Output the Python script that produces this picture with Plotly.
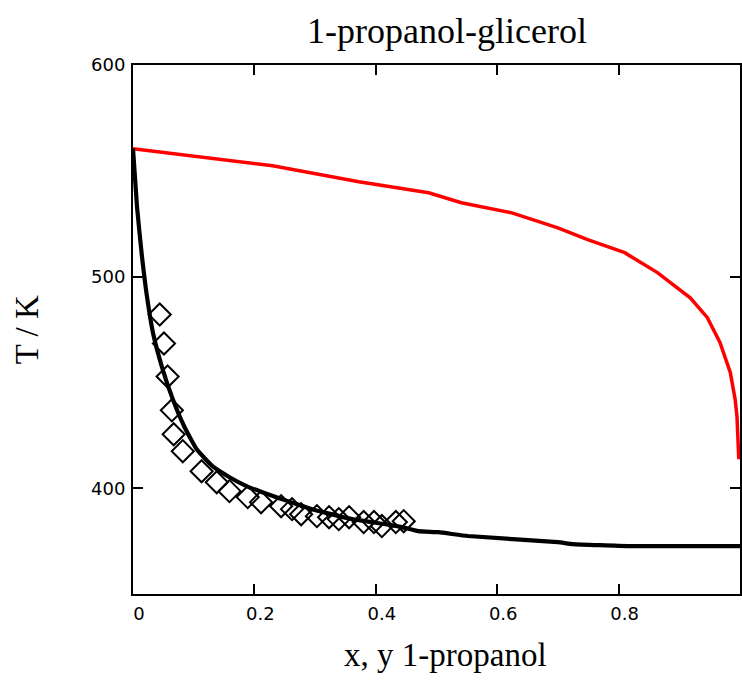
import plotly.graph_objects as go

# Liquid (bubble) curve: T vs x 1-propanol
liq_x = [0, 0.0066, 0.0148, 0.0213, 0.0328, 0.0475, 0.0656, 0.085, 0.105, 0.131, 0.159,
         0.187, 0.213, 0.241, 0.269, 0.295, 0.323, 0.361, 0.416, 0.443, 0.47, 0.503,
         0.552, 0.70, 0.725, 0.818, 1.0]
liq_T = [560.5, 533, 509.4, 494, 473.6, 457.5, 442, 428.8, 418.4, 410.4, 405.2,
         401, 398.1, 395.3, 392.5, 390.1, 388, 385.4, 383, 381.6, 379.7, 379.2,
         377.4, 374.5, 373.6, 372.6, 372.6]

# Vapour (dew) curve: T vs y 1-propanol
vap_y = [0, 0.23, 0.372, 0.487, 0.541, 0.623, 0.70, 0.749, 0.81, 0.864, 0.918,
         0.946, 0.967, 0.984, 0.992, 0.995, 0.998]
vap_T = [560.4, 552.4, 544.8, 539.6, 534.9, 530.2, 523, 517.5, 511.3, 501.9, 490,
         480.7, 468.9, 454.7, 442, 434, 413.7]

# Experimental points
exp_x = [0.044, 0.051, 0.057, 0.064, 0.067, 0.082, 0.113, 0.138, 0.159, 0.189,
         0.211, 0.244, 0.262, 0.277, 0.303, 0.323, 0.339, 0.356, 0.380, 0.397,
         0.41, 0.433, 0.446]
exp_T = [482.1, 468.4, 452.8, 436.8, 425.5, 417.5, 408, 402.8, 398.6, 395.8,
         393.4, 391.5, 390.1, 387.7, 386.8, 386.3, 385.4, 386.3, 384, 384,
         382.1, 384, 384.4]

x_ticks = [0, 0.2, 0.4, 0.6, 0.8]
x_ticktext = ["0", "0.2", "0.4", "0.6", "0.8"]
y_ticks = [400, 500, 600]

title_text = "1-propanol-glicerol"
x_title = "x, y 1-propanol"
y_title = "T / K"

W, H = 742, 697
L, R, T, B = 133, 0, 65, 103
pw, ph = W - L - R, H - T - B

fig = go.Figure()
fig.add_trace(go.Scatter(x=vap_y, y=vap_T, mode="lines",
                         line=dict(color="#ff0000", width=3.5), hoverinfo="skip"))
fig.add_trace(go.Scatter(x=liq_x, y=liq_T, mode="lines",
                         line=dict(color="black", width=4.2, shape="spline", smoothing=0.4),
                         hoverinfo="skip"))
fig.add_trace(go.Scatter(x=exp_x, y=exp_T, mode="markers",
                         marker=dict(symbol="diamond-open", size=17, color="black",
                                     line=dict(width=2, color="black"))))

serif = "Liberation Serif, Times New Roman, serif"
sans = "DejaVu Sans, sans-serif"

fig.update_layout(
    width=W, height=H,
    margin=dict(l=L, r=R, t=T, b=B, pad=0),
    plot_bgcolor="white", paper_bgcolor="white",
    showlegend=False,
    title=dict(text=title_text, x=447 / W, xanchor="center",
               y=1 - 30 / H, yanchor="middle",
               font=dict(family=serif, size=36, color="black")),
    xaxis=dict(range=[0, 1], tickvals=x_ticks, ticktext=x_ticktext,
               ticks="inside", ticklen=10, tickwidth=2, tickcolor="black",
               showline=True, linewidth=2, linecolor="black", mirror="ticks",
               showgrid=False, zeroline=False,
               tickfont=dict(family=sans, size=18, color="black"),
               ticklabelshift=6, ticklabelstandoff=2),
    yaxis=dict(range=[350, 600], tickvals=y_ticks,
               ticks="inside", ticklen=10, tickwidth=2, tickcolor="black",
               showline=True, linewidth=2, linecolor="black", mirror="ticks",
               showgrid=False, zeroline=False,
               tickfont=dict(family=sans, size=18, color="black"),
               ticklabelstandoff=2),
    annotations=[
        dict(text=x_title, xref="paper", yref="paper",
             x=(447 - L) / pw, y=(H - B - 655) / ph,
             xanchor="center", yanchor="middle", showarrow=False,
             font=dict(family=serif, size=33, color="black")),
        dict(text=y_title, xref="paper", yref="paper",
             x=(27 - L) / pw, y=(H - B - 330) / ph,
             xanchor="center", yanchor="middle", showarrow=False, textangle=-90,
             font=dict(family=serif, size=33, color="black")),
    ],
)

fig.write_html("out.html")
